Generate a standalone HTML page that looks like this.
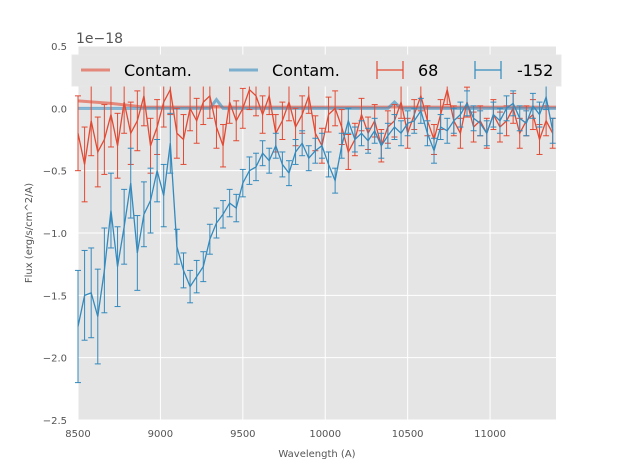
<!DOCTYPE html>
<html><head><meta charset="utf-8"><style>
body{margin:0;background:#fff;font-family:"Liberation Sans","DejaVu Sans",sans-serif}
svg text{font-family:"DejaVu Sans","Liberation Sans",sans-serif}
</style></head><body>
<svg id="chart" width="617" height="467" viewBox="0 0 617 467" xmlns="http://www.w3.org/2000/svg">
<rect x="78" y="46" width="478" height="374" fill="#e5e5e5"/>
<g id="grid"></g>
<g id="series"></g>
<g id="ticks"></g>
<text x="76" y="43" font-size="14" fill="#555">1e−18</text>
<text x="317" y="457" font-size="10" fill="#555" text-anchor="middle">Wavelength (A)</text>
<text transform="translate(32,233) rotate(-90)" font-size="10" fill="#555" text-anchor="middle">Flux (erg/s/cm^2/A)</text>
<g>
<rect x="72" y="55" width="489" height="31" fill="#e5e5e5" stroke="#e8e8e8"/>
<line x1="81" y1="70" x2="110" y2="70" stroke="#e24a33" stroke-opacity="0.6" stroke-width="3"/>
<text x="124" y="76" font-size="16" fill="#000">Contam.</text>
<line x1="229" y1="70" x2="258" y2="70" stroke="#348abd" stroke-opacity="0.6" stroke-width="3"/>
<text x="272" y="76" font-size="16" fill="#000">Contam.</text>
<g stroke="#e24a33" stroke-width="1.2"><line x1="377" y1="70" x2="403" y2="70"/><line x1="377" y1="61" x2="377" y2="79"/><line x1="403" y1="61" x2="403" y2="79"/></g>
<text x="418" y="76" font-size="16" fill="#000">68</text>
<g stroke="#348abd" stroke-width="1.2"><line x1="475" y1="70" x2="501" y2="70"/><line x1="475" y1="61" x2="475" y2="79"/><line x1="501" y1="61" x2="501" y2="79"/></g>
<text x="517" y="76" font-size="16" fill="#000">-152</text>
</g>
</svg>
<script>
const wlStart = 8500;
const wlStep = 40;
const blueFlux = [-1.75,-1.5,-1.48,-1.67,-1.3,-0.82,-1.27,-0.95,-0.6,-1.16,-0.85,-0.74,-0.5,-0.7,-0.28,-1.11,-1.3,-1.43,-1.35,-1.27,-1.05,-0.92,-0.85,-0.76,-0.8,-0.6,-0.5,-0.47,-0.36,-0.42,-0.3,-0.45,-0.52,-0.35,-0.28,-0.4,-0.34,-0.3,-0.45,-0.58,-0.3,-0.1,-0.25,-0.2,-0.26,-0.18,-0.3,-0.22,-0.15,-0.2,-0.12,-0.1,-0.02,-0.2,-0.34,-0.15,-0.18,-0.1,-0.05,0.04,-0.08,-0.12,-0.2,-0.05,-0.1,0.0,0.04,-0.08,-0.12,0.02,-0.05,0.09,-0.18];
const blueErr = [0.45,0.36,0.36,0.38,0.34,0.3,0.32,0.3,0.28,0.3,0.26,0.26,0.25,0.25,0.24,0.14,0.14,0.13,0.13,0.12,0.12,0.12,0.11,0.11,0.11,0.11,0.11,0.11,0.1,0.1,0.1,0.1,0.1,0.1,0.1,0.1,0.1,0.1,0.1,0.1,0.1,0.1,0.1,0.1,0.1,0.1,0.1,0.1,0.1,0.1,0.1,0.1,0.1,0.1,0.1,0.1,0.1,0.1,0.1,0.1,0.1,0.1,0.1,0.1,0.1,0.1,0.1,0.1,0.1,0.1,0.1,0.1,0.1];
const redFlux = [-0.2,-0.45,-0.1,-0.35,-0.25,-0.05,-0.3,0.05,-0.2,-0.1,0.1,-0.3,-0.15,0.05,0.15,-0.2,-0.25,0.0,-0.1,0.05,0.1,-0.15,-0.3,0.05,-0.1,0.0,0.15,0.1,-0.05,0.1,-0.2,-0.1,0.05,-0.15,-0.05,0.1,-0.2,-0.3,-0.05,0.0,-0.15,-0.35,-0.25,-0.05,-0.2,-0.1,-0.3,-0.15,-0.1,0.05,-0.2,-0.05,0.1,-0.1,-0.25,-0.05,0.15,-0.1,-0.2,0.05,-0.15,-0.1,-0.2,-0.05,-0.15,-0.1,0.0,-0.2,-0.1,-0.05,-0.25,-0.1,-0.2];
const redErr = [0.3,0.3,0.28,0.28,0.28,0.26,0.26,0.25,0.25,0.24,0.24,0.22,0.22,0.2,0.2,0.2,0.2,0.18,0.18,0.18,0.18,0.17,0.17,0.17,0.16,0.16,0.16,0.16,0.15,0.15,0.15,0.15,0.15,0.15,0.15,0.14,0.14,0.14,0.14,0.14,0.14,0.14,0.13,0.13,0.13,0.13,0.13,0.13,0.13,0.13,0.12,0.12,0.12,0.12,0.12,0.12,0.12,0.12,0.12,0.12,0.12,0.12,0.12,0.12,0.12,0.12,0.12,0.12,0.12,0.12,0.12,0.12,0.12];
const contamWl = [8500,8700,8900,9300,9340,9380,10380,10420,10460,11400];
const redContam = [0.06,0.04,0.01,0.01,0.01,0.01,0.01,0.01,0.01,0.01];
const blueContam = [0.0,0.0,0.0,0.0,0.07,0.0,0.0,0.05,0.0,0.0];
const xTicks = [8500,9000,9500,10000,10500,11000];
const yTicks = [0.5,0.0,-0.5,-1.0,-1.5,-2.0,-2.5];
const yTickLabels = ["0.5","0.0","−0.5","−1.0","−1.5","−2.0","−2.5"];

const NS="http://www.w3.org/2000/svg";
const X=v=>78+(v-8500)*(478/2900);
const Y=v=>46+(0.5-v)*(374/3);
function mk(tag,attrs,parent){const e=document.createElementNS(NS,tag);for(const k in attrs)e.setAttribute(k,attrs[k]);parent.appendChild(e);return e;}
const grid=document.getElementById('grid'),ser=document.getElementById('series'),tk=document.getElementById('ticks');
xTicks.forEach(t=>{
  const l=mk('line',{x1:X(t),x2:X(t),y1:46,y2:420,stroke:'#fff','stroke-width':1},grid);
  
  
  const tx=mk('text',{x:X(t),y:437,'font-size':10,fill:'#555','text-anchor':'middle'},tk);
  tx.textContent=t;
  
  
});
yTicks.forEach((t,i)=>{
  const l=mk('line',{x1:78,x2:556,y1:Y(t),y2:Y(t),stroke:'#fff','stroke-width':1},grid);
  
  
  const tx=mk('text',{x:67,y:Y(t)+4,'font-size':10,fill:'#555','text-anchor':'end'},tk);
  tx.textContent=yTickLabels[i];
  
  
});
function contam(arr,color,name){
  const p=mk('polyline',{points:contamWl.map((w,i)=>X(w)+','+Y(arr[i])).join(' '),fill:'none',stroke:color,'stroke-opacity':0.6,'stroke-width':3},ser);
  
  
}
function errSeries(vals,errs,color,name){
  const g=mk('g',{stroke:color,'stroke-width':1,fill:'none'},ser);
  
  
  vals.forEach((v,i)=>{
    const x=X(wlStart+wlStep*i);
    mk('line',{x1:x,x2:x,y1:Y(v-errs[i]),y2:Y(v+errs[i])},g);
    mk('line',{x1:x-3,x2:x+3,y1:Y(v-errs[i]),y2:Y(v-errs[i])},g);
    mk('line',{x1:x-3,x2:x+3,y1:Y(v+errs[i]),y2:Y(v+errs[i])},g);
  });
  mk('polyline',{points:vals.map((v,i)=>X(wlStart+wlStep*i)+','+Y(v)).join(' '),'stroke-width':1.3},g);
}
contam(redContam,'#e24a33','red-contam-line');
contam(blueContam,'#348abd','blue-contam-line');
errSeries(redFlux,redErr,'#e24a33','series-68');
errSeries(blueFlux,blueErr,'#348abd','series-minus-152');
</script>
</body></html>
